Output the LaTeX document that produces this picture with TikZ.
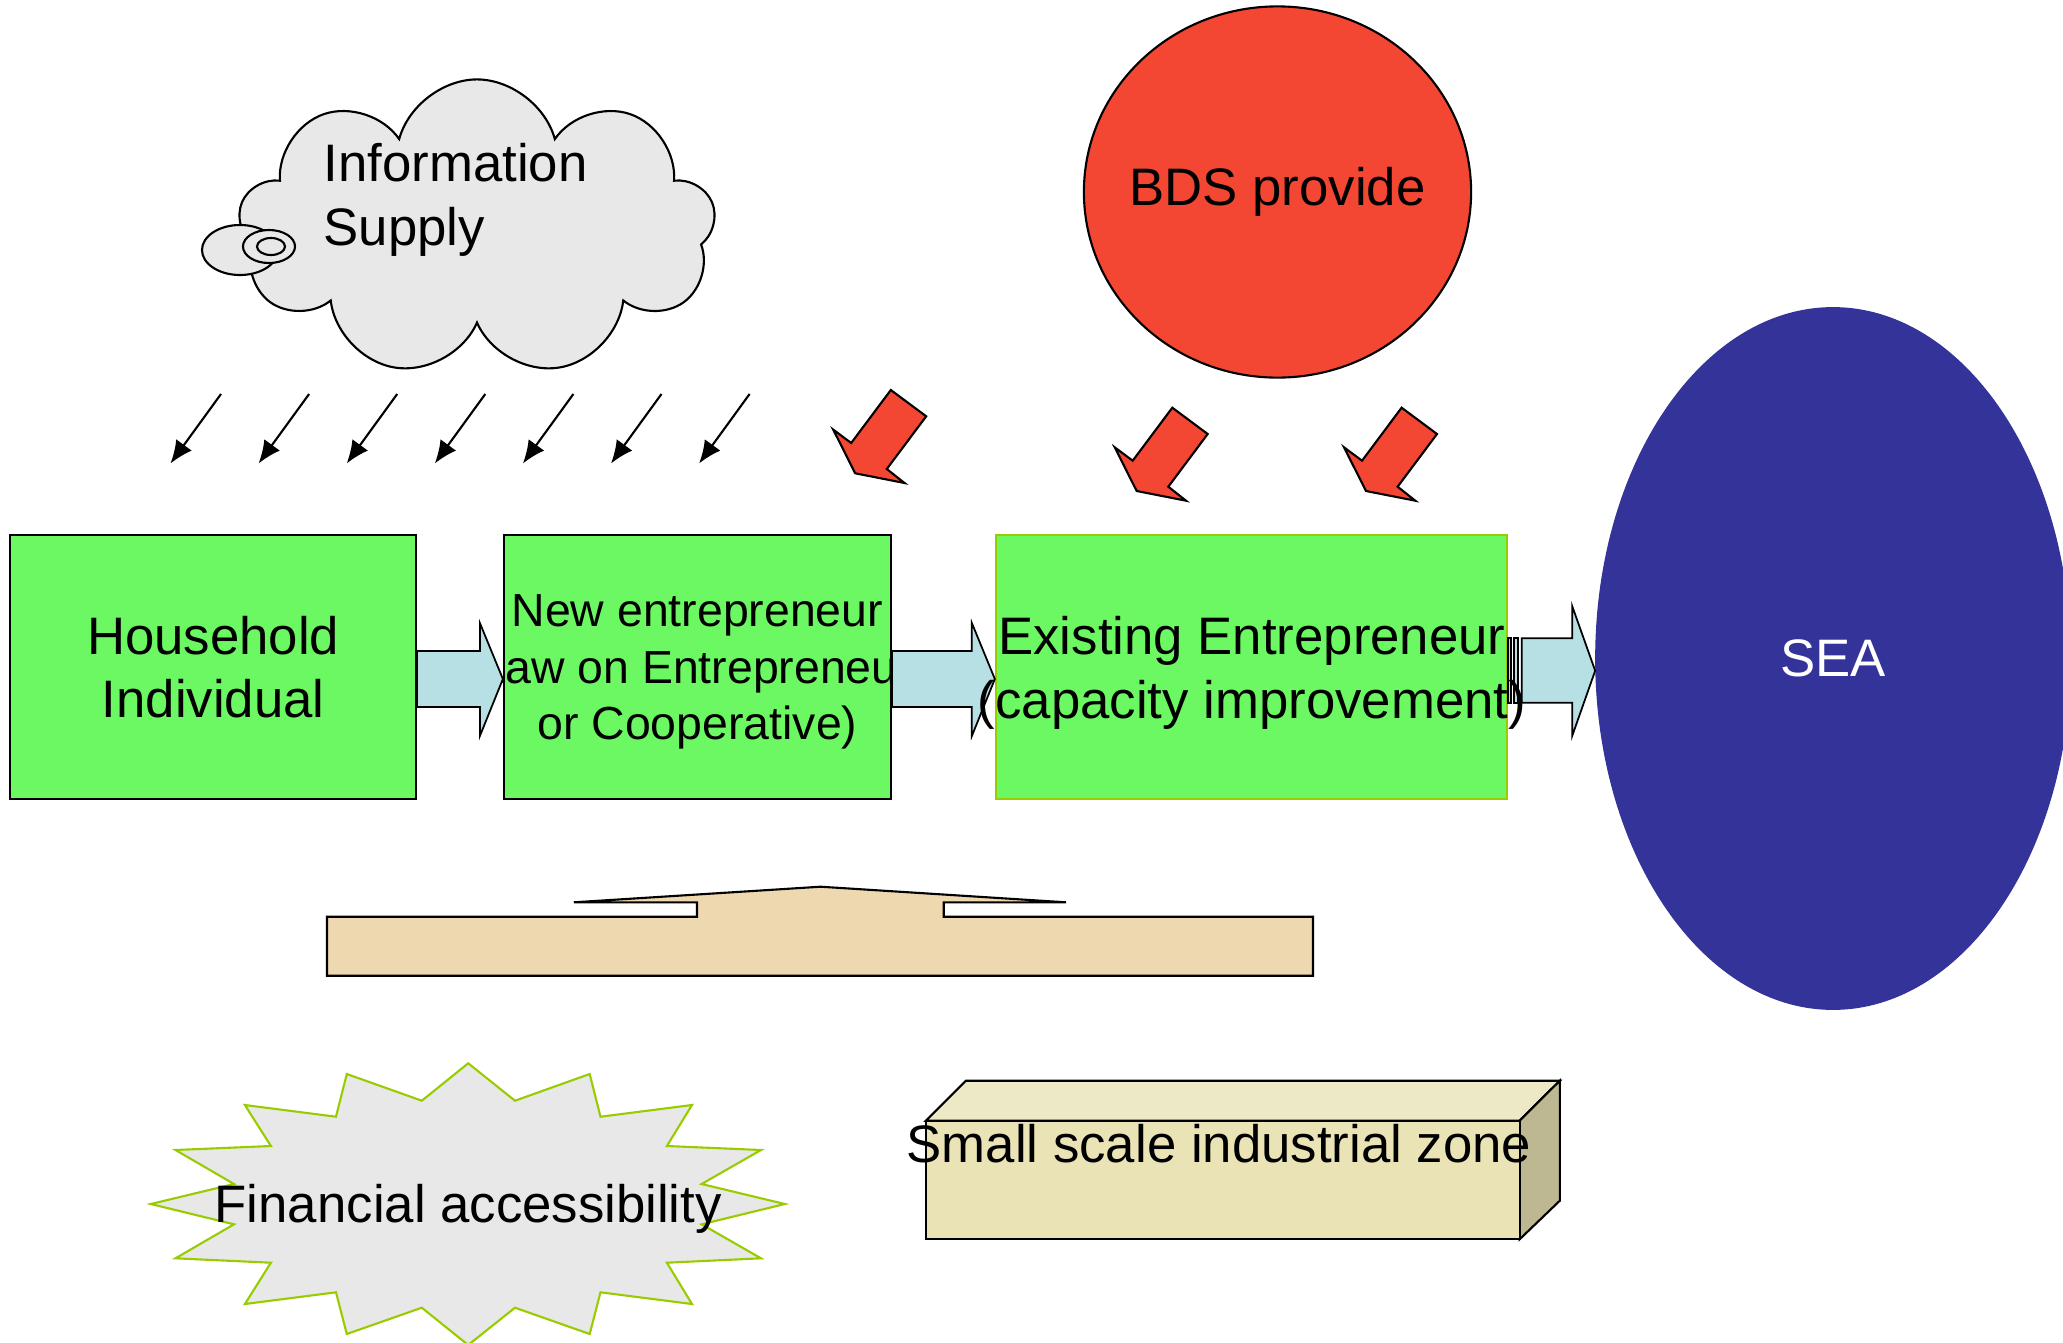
\documentclass[tikz,border=0pt]{standalone}
\usepackage{fontspec}
\setmainfont{Liberation Sans}
\usetikzlibrary{shapes.geometric,shapes.symbols,arrows.meta,calc}

\definecolor{BoxGreen}{RGB}{108,248,98}
\definecolor{LimeEdge}{RGB}{153,204,0}
\definecolor{ArrowCyan}{RGB}{183,224,228}
\definecolor{BdsRed}{RGB}{244,71,51}
\definecolor{SeaBlue}{RGB}{51,51,153}
\definecolor{CloudGrey}{RGB}{232,232,232}
\definecolor{Sand}{RGB}{238,216,175}
\definecolor{CubeFront}{RGB}{233,227,181}
\definecolor{CubeTop}{RGB}{237,232,198}
\definecolor{CubeSide}{RGB}{189,183,146}

\tikzset{
  txt/.style={font=\fontsize{15}{18}\selectfont, align=center, inner sep=0pt},
  greenbox/.style={draw, line width=0.6pt, fill=BoxGreen, minimum height=2.63cm, inner sep=0pt},
  flowarrow/.style={draw, line width=0.5pt, fill=ArrowCyan},
  bdsarrow/.style={draw, line width=0.6pt, fill=BdsRed},
  infoarrow/.style={line width=0.6pt, -{Latex[length=6.5pt,width=5.5pt]}},
}

% fat arrow from the right side of one box to the left side of the next
\newcommand{\flowto}[2]{%
  \filldraw[flowarrow] ($(#1.east)+(0,-16)$) -- ($(#2.west)+(-23,-16)$)
    -- ($(#2.west)+(-23,-44)$) -- ($(#2.west)+(0,12)$)
    -- ($(#2.west)+(-23,69)$) -- ($(#2.west)+(-23,40)$)
    -- ($(#1.east)+(0,40)$) -- cycle;}

\begin{document}
\begin{tikzpicture}[x=0.01cm, y=-0.01cm]
  \useasboundingbox (0,0) rectangle (2063,1342);

  % Information cloud
  \node[cloud, cloud puffs=9, draw, line width=0.6pt, fill=CloudGrey,
        minimum width=4.77cm, minimum height=2.97cm] (info) at (477,228) {};
  \foreach \cx/\cy/\rx/\ry in {240/250/0.38/0.25, 269/246.5/0.26/0.165, 271/246.5/0.14/0.085}
    \filldraw[line width=0.6pt, fill=CloudGrey] (\cx,\cy) ellipse [x radius=\rx cm, y radius=\ry cm];
  \node[txt, align=left, anchor=west] (infotext) at (323,200) {Information\\Supply};

  % information dropping down
  \foreach \i in {0,...,6}
    \draw[infoarrow] ({221+88.1*\i},394) -- ++(-50.5,69.5);

  % BDS and its arrows
  \node[ellipse, draw, line width=0.6pt, fill=BdsRed, minimum width=3.87cm,
        minimum height=3.71cm, inner sep=0pt] (bds) at (1277.5,192) {};
  \node[txt] (bdstext) at (bds) {BDS provide};
  \foreach \sx/\sy in {890.8/390, 1172.3/407.7, 1401.6/407.7}
    \filldraw[bdsarrow, shift={(\sx,\sy)}] (0,0) -- (35.4,26.3) -- (-4,79) -- (13.7,93)
      -- (-35.6,83.3) -- (-57.6,39.6) -- (-39.6,53) -- cycle;

  % Boxes
  \node[greenbox, minimum width=4.053cm, txt] (household) at (213.2,667) {Household\\Individual};
  \node[greenbox, minimum width=3.867cm] (newent) at (697.4,667) {};
  \node[greenbox, draw=LimeEdge, minimum width=5.105cm] (existing) at (1251.3,667) {};
  \node[ellipse, fill=SeaBlue, draw=SeaBlue, minimum width=4.74cm, minimum height=7.01cm,
        txt, text=white] (sea) at (1833,658.5) {SEA};

  \flowto{household}{newent}
  \flowto{newent}{existing}
  % striped arrow into SEA
  \filldraw[flowarrow] ($(existing.east)+(14,-28.7)$) -- ($(sea.west)+(-23,-20.2)$)
    -- ($(sea.west)+(-23,-52.5)$) -- ($(sea.west)+(0,12.2)$)
    -- ($(sea.west)+(-23,77.5)$) -- ($(sea.west)+(-23,44.2)$)
    -- ($(existing.east)+(14,35.7)$) -- cycle;
  \filldraw[flowarrow] ($(existing.east)+(0.5,-28.7)$) rectangle ($(existing.east)+(3.5,35.7)$);
  \filldraw[flowarrow] ($(existing.east)+(6,-28.7)$) rectangle ($(existing.east)+(10.5,35.7)$);

  % box texts
  \begin{scope}
    \clip (newent.south west) rectangle (newent.north east);
    \node[txt, font=\fontsize{13.2}{16}\selectfont] (newtext) at (697.4,672)
      {New entrepreneur\\(Law on Entrepreneur\kern5pt\\or Cooperative)};
  \end{scope}
  \node[txt] (existtext) at (1252,672.8) {Existing Entrepreneur\\(capacity improvement)};

  % Platform
  \filldraw[line width=0.6pt, fill=Sand] (327,975.7) -- (327,916.7) -- (697,916.7) -- (697,902.3)
    -- (573.8,902.3) -- (820.6,886.7) -- (1066,902.3) -- (943.7,902.3) -- (943.7,916.7)
    -- (1313,916.7) -- (1313,975.7) -- cycle;

  % Financial starburst
  \filldraw[line width=0.6pt, draw=LimeEdge, fill=CloudGrey] (468.2,1063.3) -- (515,1100.7)
    -- (589.7,1074) -- (600.5,1116.7) -- (692,1105) -- (666.9,1146) -- (761,1150)
    -- (701.6,1184) -- (784.8,1204) -- (701.6,1224.3) -- (761,1258.3) -- (666.9,1262.7)
    -- (692,1304) -- (600.5,1292.3) -- (589.7,1334) -- (515,1307.7) -- (468.2,1345)
    -- (421.8,1307.7) -- (346.8,1334) -- (336,1292.3) -- (244.9,1304) -- (270.9,1262.7)
    -- (175.5,1258.3) -- (234,1224.3) -- (150.8,1204) -- (234,1184) -- (175.5,1150)
    -- (270.9,1146) -- (244.9,1105) -- (336,1116.7) -- (346.8,1074) -- (421.8,1100.7) -- cycle;
  \node[txt] (finance) at (468.3,1209) {Financial accessibility};

  % Industrial zone block
  \filldraw[line width=0.6pt, fill=CubeTop] (925.9,1120.7) -- (966,1080.7) -- (1559.8,1080.7)
    -- (1519.6,1120.7) -- cycle;
  \filldraw[line width=0.6pt, fill=CubeSide] (1519.6,1120.7) -- (1559.8,1080.7) -- (1559.8,1200.7)
    -- (1519.6,1239.3) -- cycle;
  \filldraw[line width=0.6pt, fill=CubeFront] (925.9,1120.7) rectangle (1519.6,1239.3);
  \node[txt] (zone) at (1219,1144) {Small scale industrial zone};
\end{tikzpicture}
\end{document}
